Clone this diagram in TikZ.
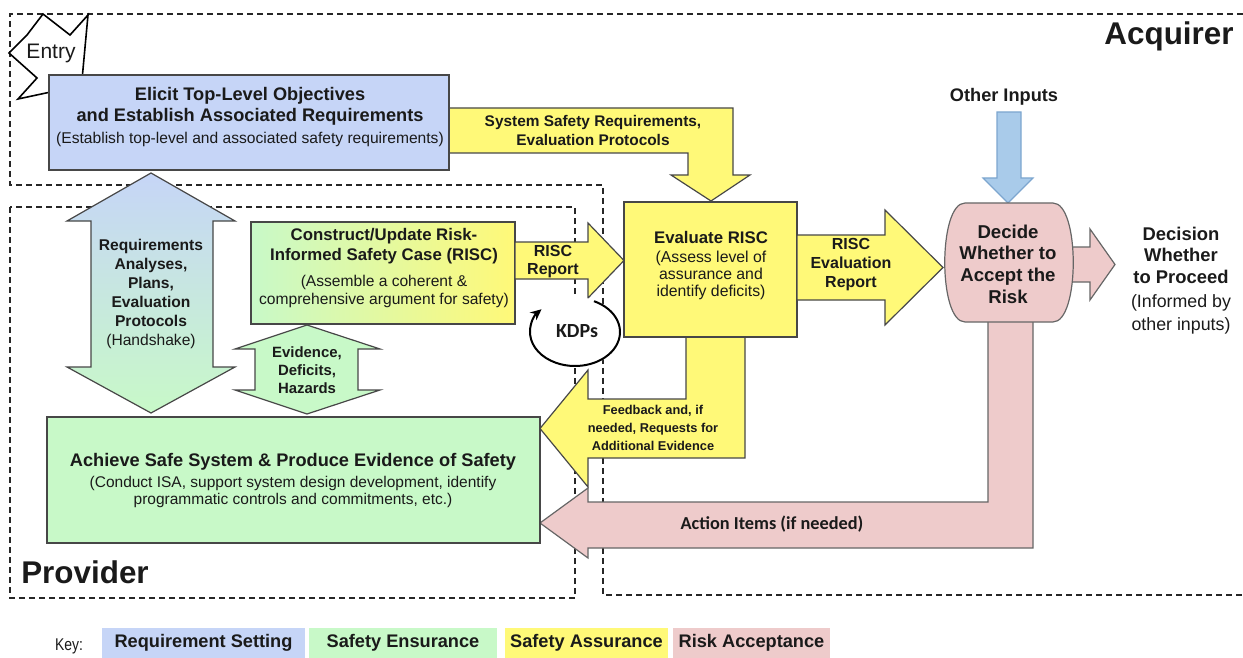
\documentclass[tikz,border=0pt]{standalone}
\usepackage{fontspec}
\setmainfont{Liberation Sans}
\newfontfamily\calfont{Carlito}
\newfontfamily\narrowfont[FakeStretch=0.82]{Liberation Sans}
\usetikzlibrary{arrows.meta}

\definecolor{reqblue}{HTML}{C6D5F7}
\definecolor{ensgreen}{HTML}{C8F9C8}
\definecolor{assyellow}{HTML}{FFF978}
\definecolor{riskpink}{HTML}{EECBCB}
\definecolor{inblue}{HTML}{A9CBEA}
\definecolor{inblueline}{HTML}{7DA6CF}
\definecolor{ink}{HTML}{1A1A1A}

% fsz{size}{skip}: font size and line spacing in picture units
\newcommand{\fsz}[2]{\fontsize{#1}{#2}\selectfont}

\tikzset{
  outline/.style={draw=black!72, line width=1.2pt},
  pinkline/.style={draw=black!60, line width=1.2pt, fill=riskpink},
  zone/.style={draw=black!85, line width=1.4pt, dash pattern=on 6pt off 4pt},
  boxnode/.style={outline, rectangle, inner sep=0pt},
  lbl/.style={align=center, text=ink, inner sep=0pt},
  bigbold/.style={font=\fsz{31.4}{34}\bfseries, text=ink, inner sep=0pt},
  keybox/.style={rectangle, inner sep=0pt, minimum height=30pt,
    font=\fsz{18.2}{20}\bfseries, text=ink},
}

\begin{document}
\begin{tikzpicture}[x=1pt,y=-1pt]
\useasboundingbox (0,0) rectangle (1243,658);

% ---- organisational zones ----
\draw[zone] (1243,14) -- (10,14) -- (10,185) -- (603,185) -- (603,595) -- (1243,595);
\draw[zone] (10,207) rectangle (575,598);
\node[bigbold] (acq) at (1169,36) {Acquirer};
\node[bigbold] (prov) at (85,572) {Provider};

% ---- entry marker ----
\draw[draw=black, line width=1.6pt, fill=white]
  (43,14) -- (70,35) -- (88,15) -- (82,80) -- (60,90) -- (18,99) -- (37,78) -- (9,53) -- (27,35) -- cycle;
\node[lbl, font=\fsz{21}{24}] (entry) at (51,53) {Entry};

% ---- system safety requirements arrow ----
\draw[outline, fill=assyellow]
  (440,108) -- (733,108) -- (733,175) -- (750,175) -- (711,201) -- (671,175) -- (688,175) -- (688,153) -- (440,153) -- cycle;
\node[lbl, font=\fsz{15.4}{19}\bfseries] (ssr) at (593,130.5) {System Safety Requirements,\\Evaluation Protocols};

% ---- requirement setting box ----
\node[boxnode, fill=reqblue, minimum width=400pt, minimum height=95pt] (elicit) at (249,122.5) {};
\node[lbl, font=\fsz{18.2}{21}\bfseries] (elicitT) at (250,106.5) {Elicit Top-Level Objectives\\and Establish Associated Requirements};
\node[lbl, font=\fsz{15.6}{18}] (elicitS) at (250,139) {(Establish top-level and associated safety requirements)};

% ---- handshake double arrow ----
\draw[outline, top color=reqblue, bottom color=ensgreen]
  (151,173) -- (235,221) -- (213,221) -- (213,367) -- (235,367) -- (151,413)
  -- (67,367) -- (91,367) -- (91,221) -- (67,221) -- cycle;
\node[lbl, font=\fsz{15.6}{19}\bfseries] (hand) at (151,283) {Requirements\\Analyses,\\Plans,\\Evaluation\\Protocols};
\node[lbl, font=\fsz{15.6}{18}] (handS) at (151,341) {(Handshake)};

% ---- evidence double arrow ----
\draw[outline, fill=ensgreen]
  (307,325) -- (380,349) -- (358,349) -- (358,390) -- (380,390) -- (307,414)
  -- (235,390) -- (255,390) -- (255,349) -- (235,349) -- cycle;
\node[lbl, font=\fsz{14.9}{18}\bfseries] (evid) at (307,370) {Evidence,\\Deficits,\\Hazards};

% ---- construct RISC box ----
\node[boxnode, left color=ensgreen, right color=assyellow, minimum width=264pt, minimum height=102pt] (construct) at (383,273) {};
\node[lbl, font=\fsz{16.8}{20}\bfseries] (constructT) at (384,246) {Construct/Update Risk-\\Informed Safety Case (RISC)};
\node[lbl, font=\fsz{15.6}{18}] (constructS) at (384,291) {(Assemble a coherent \&\\comprehensive argument for safety)};

% ---- RISC report arrow ----
\draw[outline, fill=assyellow]
  (515,242) -- (588,242) -- (588,223) -- (624,260.5) -- (588,298) -- (588,279) -- (515,279) -- cycle;
\node[lbl, font=\fsz{16}{18}\bfseries] (rr) at (553,262) {RISC\\Report};

% ---- KDP cycle ----
\fill[white] (575,332) ellipse[x radius=46, y radius=35];
\draw[line width=2pt, draw=black, -{Stealth[length=11pt,width=10pt]}]
  (575,332) ++(-65:45 and 34) arc[start angle=-65, end angle=222, x radius=45, y radius=34];
\node[lbl, font=\calfont\fsz{20}{22}\bfseries] (kdp) at (577,331) {KDPs};

% ---- feedback arrow ----
\draw[outline, fill=assyellow]
  (686,336) -- (686,399) -- (588,399) -- (588,370) -- (540,428.5) -- (588,487) -- (588,458) -- (745,458) -- (745,336) -- cycle;
\node[lbl, font=\fsz{12.8}{18}\bfseries] (fb) at (653,428) {Feedback and, if\\needed, Requests for\\Additional Evidence};

% ---- evaluate RISC box ----
\node[boxnode, fill=assyellow, minimum width=173pt, minimum height=135pt] (evaluate) at (710.5,269.5) {};
\node[lbl, font=\fsz{16.8}{20}\bfseries] (evaluateT) at (711,237) {Evaluate RISC};
\node[lbl, font=\fsz{15.8}{17}] (evaluateS) at (711,275) {(Assess level of\\assurance and\\identify deficits)};

% ---- RISC evaluation report arrow ----
\draw[outline, fill=assyellow]
  (797,235) -- (885,235) -- (885,210) -- (943,267.5) -- (885,325) -- (885,300) -- (797,300) -- cycle;
\node[lbl, font=\fsz{16}{19}\bfseries] (rer) at (851,265) {RISC\\Evaluation\\Report};

% ---- action items arrow ----
\draw[pinkline]
  (988,315) -- (988,502) -- (588,502) -- (588,488) -- (540,523) -- (588,558) -- (588,548) -- (1033,548) -- (1033,315) -- cycle;
\node[lbl, font=\calfont\fsz{18.3}{20}\bfseries] (act) at (772,524) {Action Items (if needed)};

% ---- other inputs arrow ----
\draw[draw=inblueline, line width=1.2pt, fill=inblue]
  (997,112) -- (1021,112) -- (1021,178) -- (1033,178) -- (1008,203) -- (983,178) -- (997,178) -- cycle;
\node[lbl, font=\fsz{18.2}{20}\bfseries] (oin) at (1004,97) {Other Inputs};

% ---- decision arrow ----
\draw[pinkline]
  (1065,247) -- (1090,247) -- (1090,229) -- (1115,264.5) -- (1090,300) -- (1090,282) -- (1065,282) -- cycle;

% ---- risk acceptance decision ----
\draw[pinkline]
  (965,203) -- (1053,203) .. controls (1080,203) and (1080,322) .. (1053,322)
  -- (965,322) .. controls (938,322) and (938,203) .. (965,203) -- cycle;
\node[lbl, font=\fsz{18.6}{21.7}\bfseries] (decide) at (1008,264) {Decide\\Whether to\\Accept the\\Risk};

\node[lbl, font=\fsz{18.4}{21.5}\bfseries] (decision) at (1181,255) {Decision\\Whether\\to Proceed};
\node[lbl, font=\fsz{17.8}{23}] (decisionS) at (1181,314) {(Informed by\\other inputs)};

% ---- safety ensurance box ----
\node[boxnode, fill=ensgreen, minimum width=493pt, minimum height=126pt] (achieve) at (293.5,480) {};
\node[lbl, font=\fsz{18.2}{20}\bfseries] (achieveT) at (293,462) {Achieve Safe System \& Produce Evidence of Safety};
\node[lbl, font=\fsz{15.5}{17}] (achieveS) at (293,491.5) {(Conduct ISA, support system design development, identify\\programmatic controls and commitments, etc.)};

% ---- key ----
\node[lbl, font=\narrowfont\fsz{17}{20}] (key) at (69,646) {Key:};
\node[keybox, fill=reqblue, minimum width=203pt] (k1) at (203.5,643) {Requirement Setting};
\node[keybox, fill=ensgreen, minimum width=188pt] (k2) at (403,643) {Safety Ensurance};
\node[keybox, fill=assyellow, minimum width=163pt] (k3) at (586.5,643) {Safety Assurance};
\node[keybox, fill=riskpink, minimum width=157pt] (k4) at (751.5,643) {Risk Acceptance};
\end{tikzpicture}
\end{document}
